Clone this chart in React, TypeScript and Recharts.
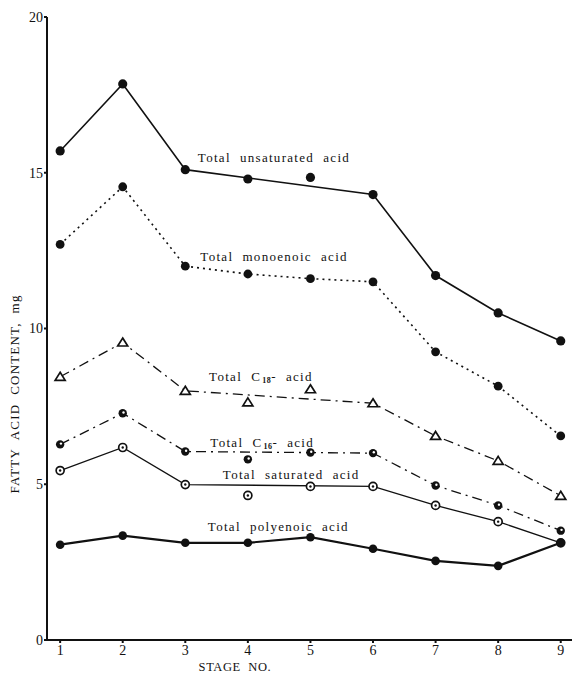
import React from "react";
import { ComposedChart, Line, XAxis, YAxis, ReferenceDot } from "recharts";

const stages = [1, 2, 3, 4, 5, 6, 7, 8, 9];

const unsaturated = [15.7, 17.85, 15.1, 14.8, 14.85, 14.3, 11.7, 10.5, 9.6];
const unsaturatedFit = [15.7, 17.85, 15.1, null, null, 14.3, 11.7, 10.5, 9.6];

const monoenoic = [12.7, 14.55, 12.0, 11.75, 11.6, 11.5, 9.25, 8.15, 6.55];
const monoenoicFit = [12.7, 14.55, 12.0, 11.75, 11.6, 11.5, 9.25, 8.15, 6.55];

const c18 = [8.45, 9.55, 8.0, 7.63, 8.05, 7.6, 6.55, 5.75, 4.63];
const c18Fit = [8.45, 9.55, 8.0, null, null, 7.6, 6.55, 5.75, 4.63];

const c16 = [6.28, 7.28, 6.05, 5.8, 6.02, 6.0, 4.96, 4.32, 3.51];
const c16Fit = [6.28, 7.28, 6.05, null, null, 6.0, 4.96, 4.32, 3.51];

const saturated = [5.44, 6.18, 4.99, 4.64, 4.93, 4.93, 4.32, 3.8, 3.12];
const saturatedFit = [5.44, 6.18, 4.99, null, null, 4.93, 4.32, 3.8, 3.12];

const polyenoic = [3.06, 3.35, 3.12, 3.12, 3.3, 2.93, 2.54, 2.38, 3.12];

const yTicks = [0, 5, 10, 15, 20];

// label anchors: [stage, value, text, subscript]
const labels: [number, number, string, string?][] = [
  [3.2, 15.35, "Total  unsaturated  acid"],
  [3.24, 12.17, "Total  monoenoic  acid"],
  [3.38, 8.3, "Total  C", "18"],
  [3.4, 6.2, "Total  C", "16"],
  [3.6, 5.18, "Total  saturated  acid"],
  [3.36, 3.5, "Total  polyenoic  acid"],
];

const data = stages.map((s, i) => ({
  stage: s,
  unsat: unsaturated[i],
  unsatFit: unsaturatedFit[i],
  mono: monoenoic[i],
  monoFit: monoenoicFit[i],
  c18: c18[i],
  c18Fit: c18Fit[i],
  c16: c16[i],
  c16Fit: c16Fit[i],
  sat: saturated[i],
  satFit: saturatedFit[i],
  poly: polyenoic[i],
}));

const FONT = "'Liberation Serif', 'DejaVu Serif', serif";
const INK = "#111";

const FilledDot = (r: number) => (p: any) => {
  if (p.cx == null || p.cy == null) return <g key={p.key} />;
  return <circle key={p.key} cx={p.cx} cy={p.cy} r={r} fill={INK} />;
};

const TriangleDot = (p: any) => {
  if (p.cx == null || p.cy == null) return <g key={p.key} />;
  const { cx, cy } = p;
  return (
    <path
      key={p.key}
      d={`M${cx},${cy - 4.5} L${cx + 5},${cy + 3.5} L${cx - 5},${cy + 3.5} Z`}
      fill="#fff"
      stroke={INK}
      strokeWidth={1.7}
    />
  );
};

const HalfDot = (p: any) => {
  if (p.cx == null || p.cy == null) return <g key={p.key} />;
  return (
    <g key={p.key}>
      <circle cx={p.cx} cy={p.cy} r={4.2} fill={INK} />
      <circle cx={p.cx + 0.8} cy={p.cy - 0.8} r={1.2} fill="#fff" />
    </g>
  );
};

const RingDot = (p: any) => {
  if (p.cx == null || p.cy == null) return <g key={p.key} />;
  return (
    <g key={p.key}>
      <circle cx={p.cx} cy={p.cy} r={4} fill="#fff" stroke={INK} strokeWidth={1.7} />
      <circle cx={p.cx} cy={p.cy} r={1.2} fill={INK} />
    </g>
  );
};

const LabelShape = (text: string, sub?: string) => (p: any) => (
  <text
    x={p.cx}
    y={p.cy}
    fontFamily={FONT}
    fontSize={13}
    letterSpacing={1.3}
    fill={INK}
    style={{ whiteSpace: "pre" }}
  >
    {text}
    {sub ? (
      <>
        <tspan fontSize={8} fontWeight="bold" letterSpacing={0.5} dx={1} dy={2}>{sub}</tspan>
        <tspan dy={-2}>{"-  acid"}</tspan>
      </>
    ) : null}
  </text>
);

export default function App() {
  return (
    <div style={{ position: "absolute", left: 0, top: 0, background: "#fff" }}>
      <ComposedChart
        width={576}
        height={674}
        data={data}
        margin={{ top: 17, right: 4, bottom: 4, left: 17 }}
      >
        <XAxis
          type="number"
          dataKey="stage"
          domain={[0.79, 9.18]}
          ticks={stages}
          allowDataOverflow
          height={30}
          stroke={INK}
          strokeWidth={2}
          tickSize={3}
          tickMargin={2}
          tick={{ fontFamily: FONT, fontSize: 14, fill: INK }}
          label={{
            content: ({ viewBox }: any) => (
              <text
                x={viewBox.x + viewBox.width * 0.358}
                y={viewBox.y + 31}
                textAnchor="middle"
                fontFamily={FONT}
                fontSize={12.5}
                letterSpacing={0.6}
                fill={INK}
                style={{ whiteSpace: "pre" }}
              >
                {"STAGE  NO."}
              </text>
            ),
          }}
        />
        <YAxis
          type="number"
          domain={[0, 20]}
          ticks={yTicks}
          width={30}
          stroke={INK}
          strokeWidth={2}
          tickSize={3}
          tickMargin={1}
          tick={{ fontFamily: FONT, fontSize: 14, fill: INK }}
          label={{
            content: ({ viewBox }: any) => {
              const x = viewBox.x - 2;
              const y = viewBox.y + viewBox.height * 0.605;
              return (
                <text
                  x={x}
                  y={y}
                  transform={`rotate(-90 ${x} ${y})`}
                  textAnchor="middle"
                  dominantBaseline="central"
                  fontFamily={FONT}
                  fontSize={13}
                  letterSpacing={1.2}
                  fill={INK}
                  style={{ whiteSpace: "pre" }}
                >
                  {"FATTY  ACID  CONTENT,  mg"}
                </text>
              );
            },
          }}
        />

        <Line dataKey="unsatFit" stroke={INK} strokeWidth={1.6} dot={false} activeDot={false} connectNulls isAnimationActive={false} />
        <Line dataKey="monoFit" stroke={INK} strokeWidth={1.6} strokeDasharray="2 4" dot={false} activeDot={false} connectNulls isAnimationActive={false} />
        <Line dataKey="c18Fit" stroke={INK} strokeWidth={1.3} strokeDasharray="10 5 2 5" dot={false} activeDot={false} connectNulls isAnimationActive={false} />
        <Line dataKey="c16Fit" stroke={INK} strokeWidth={1.3} strokeDasharray="10 5 2 5" dot={false} activeDot={false} connectNulls isAnimationActive={false} />
        <Line dataKey="satFit" stroke={INK} strokeWidth={1.3} dot={false} activeDot={false} connectNulls isAnimationActive={false} />
        <Line dataKey="poly" stroke={INK} strokeWidth={2.2} dot={false} activeDot={false} isAnimationActive={false} />

        <Line dataKey="unsat" stroke="none" dot={FilledDot(4.6)} activeDot={false} isAnimationActive={false} />
        <Line dataKey="mono" stroke="none" dot={FilledDot(4.4)} activeDot={false} isAnimationActive={false} />
        <Line dataKey="c18" stroke="none" dot={TriangleDot} activeDot={false} isAnimationActive={false} />
        <Line dataKey="c16" stroke="none" dot={HalfDot} activeDot={false} isAnimationActive={false} />
        <Line dataKey="sat" stroke="none" dot={RingDot} activeDot={false} isAnimationActive={false} />
        <Line dataKey="poly" stroke="none" dot={FilledDot(4.3)} activeDot={false} isAnimationActive={false} />

        {labels.map(([x, y, text, sub]) => (
          <ReferenceDot key={text + (sub || "")} x={x} y={y} r={0} shape={LabelShape(text, sub)} />
        ))}
      </ComposedChart>
    </div>
  );
}
